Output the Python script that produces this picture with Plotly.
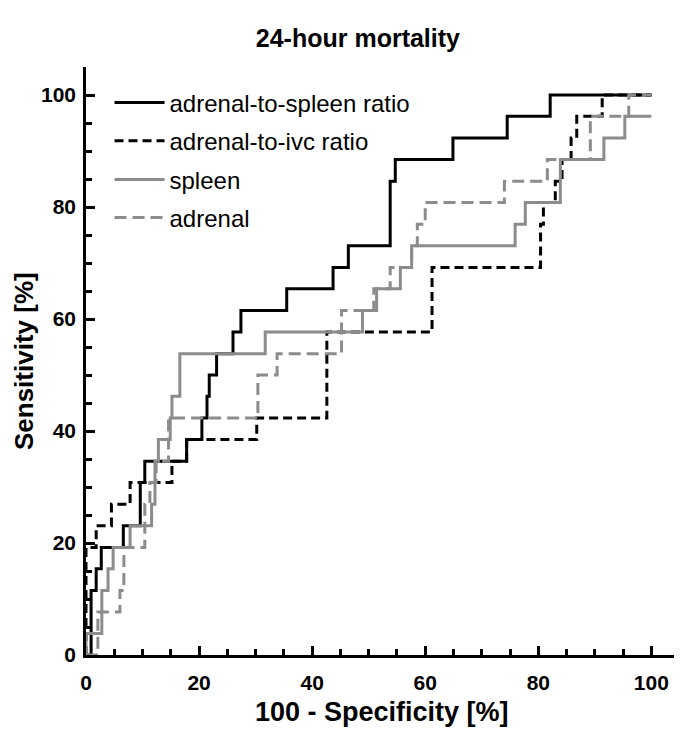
import plotly.graph_objects as go

# ROC step vertices (100 - specificity [%], sensitivity [%]); drawn with "hv" steps
ratio_spleen_x = [0, 0.9, 1.8, 2.7, 6.6, 9.6, 10.4, 17.8, 20.5, 21.4, 21.8, 23.1, 26.0, 27.4, 35.5, 43.7, 46.4, 53.8, 54.7, 64.9, 74.5, 82.1, 100]
ratio_spleen_y = [0, 11.5, 15.4, 19.2, 23.1, 30.8, 34.6, 38.5, 42.3, 46.2, 50.0, 53.8, 57.7, 61.5, 65.4, 69.2, 73.1, 84.6, 88.5, 92.3, 96.2, 100, 100]

ratio_ivc_x = [0, 0, 1.8, 4.5, 7.8, 15.2, 17.8, 30.2, 42.6, 61.2, 80.4, 80.9, 83.0, 84.2, 85.8, 86.8, 91.3, 100]
ratio_ivc_y = [0, 19.2, 23.1, 26.9, 30.8, 34.6, 38.5, 42.3, 57.7, 69.2, 76.9, 80.8, 84.6, 88.5, 92.3, 96.2, 100, 100]

spleen_x = [0, 0, 2.8, 3.9, 4.8, 7.8, 11.6, 12.2, 12.8, 14.9, 15.2, 16.6, 31.7, 48.9, 51.4, 55.6, 57.6, 75.9, 77.7, 83.9, 91.6, 95.3, 100]
spleen_y = [0, 3.85, 11.5, 15.4, 19.2, 23.1, 26.9, 34.6, 38.5, 42.3, 46.2, 53.8, 57.7, 61.5, 65.4, 69.2, 73.1, 76.9, 80.8, 88.5, 92.3, 96.2, 96.2]

adrenal_x = [0, 2.1, 6.0, 6.7, 10.4, 11.3, 12.4, 14.6, 30.4, 33.8, 45.2, 50.9, 53.8, 57.6, 58.6, 60.0, 74.0, 81.6, 89.2, 96.0, 100]
adrenal_y = [0, 7.7, 11.5, 19.2, 26.9, 30.8, 34.6, 42.3, 50.0, 53.8, 61.5, 65.4, 69.2, 73.1, 76.9, 80.8, 84.6, 88.5, 96.2, 100, 100]

series_names = ["adrenal-to-spleen ratio", "adrenal-to-ivc ratio", "spleen", "adrenal"]
x_ticks = [0, 20, 40, 60, 80, 100]
y_ticks = [0, 20, 40, 60, 80, 100]

FONT = "Liberation Sans, Arial, sans-serif"
GRAY = "#8c8c8c"

fig = go.Figure()
series = [
    (ratio_spleen_x, ratio_spleen_y, "black", "solid"),
    (ratio_ivc_x, ratio_ivc_y, "black", "9px,5px"),
    (spleen_x, spleen_y, GRAY, "solid"),
    (adrenal_x, adrenal_y, GRAY, "12px,6px"),
]
legend_ids = ["legend", "legend2", "legend3", "legend4"]
legend_y = [0.9388, 0.8741, 0.8078, 0.7432]
for name, lid, (xs, ys, col, dash) in zip(series_names, legend_ids, series):
    fig.add_trace(go.Scatter(
        x=xs, y=ys, mode="lines", name=name, legend=lid,
        line=dict(color=col, width=3, dash=dash, shape="hv"),
    ))

axis_common = dict(
    showgrid=False, zeroline=False, showline=True, linecolor="black", linewidth=2.5,
    ticks="inside", ticklen=9, tickwidth=2.5, tickcolor="black", automargin=False,
    tickfont=dict(family=FONT, size=21, color="black", weight="bold"),
    minor=dict(dtick=5, ticks="inside", ticklen=6, tickwidth=2.5, tickcolor="black"),
)

legend_style = dict(x=0.04, xanchor="left", yanchor="middle", itemwidth=50,
                    bgcolor="rgba(0,0,0,0)",
                    font=dict(family=FONT, size=24, color="black"))

fig.update_layout(
    width=669, height=730,
    margin=dict(l=78, r=3, t=59, b=83),
    paper_bgcolor="white", plot_bgcolor="white",
    title=dict(text="<b>24-hour mortality</b>", x=0.523, xref="container", xanchor="center",
               y=0.959, yref="container", yanchor="middle",
               font=dict(family=FONT, size=25, color="black")),
    xaxis=dict(range=[0, 104], tickvals=x_ticks, ticklabelstandoff=7, **axis_common),
    yaxis=dict(range=[0, 105], tickvals=y_ticks, ticklabelstandoff=3, **axis_common),
    annotations=[
        dict(text="<b>100 - Specificity [%]</b>", xref="paper", yref="paper",
             x=0.503, y=-0.097, xanchor="center", yanchor="middle",
             showarrow=False, font=dict(family=FONT, size=27, color="black")),
        dict(text="<b>Sensitivity [%]</b>", xref="paper", yref="paper",
             x=-0.1054, y=0.5, xanchor="center", yanchor="middle", textangle=-90,
             showarrow=False, font=dict(family=FONT, size=26, color="black")),
    ],
    showlegend=True,
)
for lid, ly in zip(legend_ids, legend_y):
    fig.update_layout({lid: dict(y=ly, **legend_style)})

fig.write_html("out.html")
